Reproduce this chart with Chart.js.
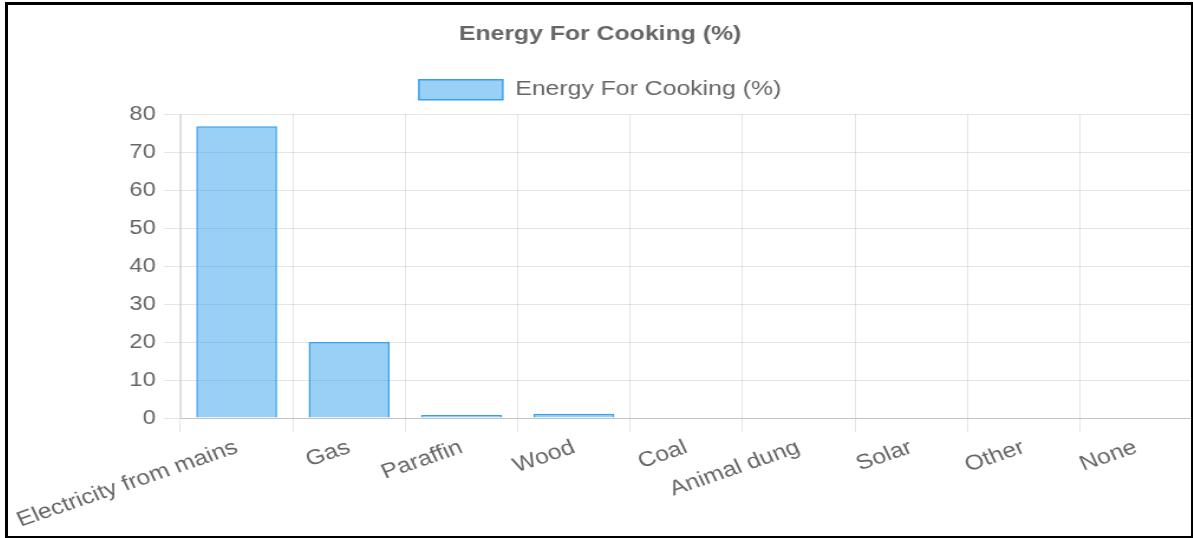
<!DOCTYPE html>
<html>
<head>
<meta charset="utf-8">
<script src="https://cdn.jsdelivr.net/npm/chart.js@4/dist/chart.umd.min.js"></script>
<style>
    html, body { margin: 0; padding: 0; background: #fff; }
    .frame {
        position: absolute; left: 5px; top: 2px;
        width: 1183px; height: 531px;
        border: 3px solid #000;
        overflow: hidden;
    }
    /* the source picture is stretched sideways, so draw narrower and widen */
    .stretch {
        width: 1002.5px; height: 531px;
        transform: scaleX(1.18); transform-origin: 0 0;
    }
</style>
</head>
<body>
<div class="frame"><div class="stretch"><canvas id="cookingChart"></canvas></div></div>
<script>
// Chart data
const categories = ["Electricity from mains", "Gas", "Paraffin", "Wood", "Coal", "Animal dung", "Solar", "Other", "None"];
const cookingShare = [76.8, 20.0, 0.8, 1.1, 0, 0, 0.1, 0, 0.1];
const yTicks = [0, 10, 20, 30, 40, 50, 60, 70, 80];
const seriesLabel = "Energy For Cooking (%)";

const textGrey = '#666';
const fontFamily = '"Liberation Sans", Arial, Helvetica, sans-serif';

// a little more room between the legend and the plot area
const legendGap = {
    id: 'legendGap',
    afterInit(chart) {
        const legend = chart.legend;
        if (!legend) return;
        const fit = legend.fit;
        legend.fit = function () {
            fit.call(this);
            this.height += 4;
        };
    }
};

const ctx = document.getElementById('cookingChart').getContext('2d');
new Chart(ctx, {
    type: 'bar',
    data: {
        labels: categories,
        datasets: [{
            label: seriesLabel,
            data: cookingShare,
            backgroundColor: 'rgba(54, 162, 235, 0.5)',
            borderColor: 'rgb(54, 162, 235)',
            borderWidth: 1.5
        }]
    },
    options: {
        responsive: true,
        maintainAspectRatio: false,
        animation: false,
        layout: { padding: 0 },
        plugins: {
            title: {
                display: true,
                text: seriesLabel,
                color: textGrey,
                font: { family: fontFamily, size: 21, weight: 'bold' },
                padding: { top: 17, bottom: 17 }
            },
            legend: {
                labels: {
                    color: textGrey,
                    boxWidth: 71,
                    boxHeight: 20,
                    font: { family: fontFamily, size: 21 },
                    padding: 15
                }
            },
            tooltip: { enabled: false }
        },
        scales: {
            y: {
                min: 0,
                max: 80,
                afterFit: scale => { scale.width = 146; },
                afterBuildTicks: scale => { scale.ticks = yTicks.map(v => ({ value: v })); },
                grid: { color: 'rgba(0,0,0,0.1)', tickLength: 14 },
                border: { color: 'rgba(0,0,0,0.15)' },
                ticks: { color: textGrey, padding: 7, font: { family: fontFamily, size: 20 } }
            },
            x: {
                afterFit: scale => { scale.height = 118; scale.paddingLeft = 0; },
                grid: { color: 'rgba(0,0,0,0.1)', tickLength: 14 },
                border: { color: 'rgba(0,0,0,0.15)' },
                ticks: {
                    color: textGrey,
                    minRotation: 22,
                    maxRotation: 22,
                    autoSkip: false,
                    font: { family: fontFamily, size: 21 }
                }
            }
        }
    },
    plugins: [legendGap]
});
</script>
</body>
</html>
